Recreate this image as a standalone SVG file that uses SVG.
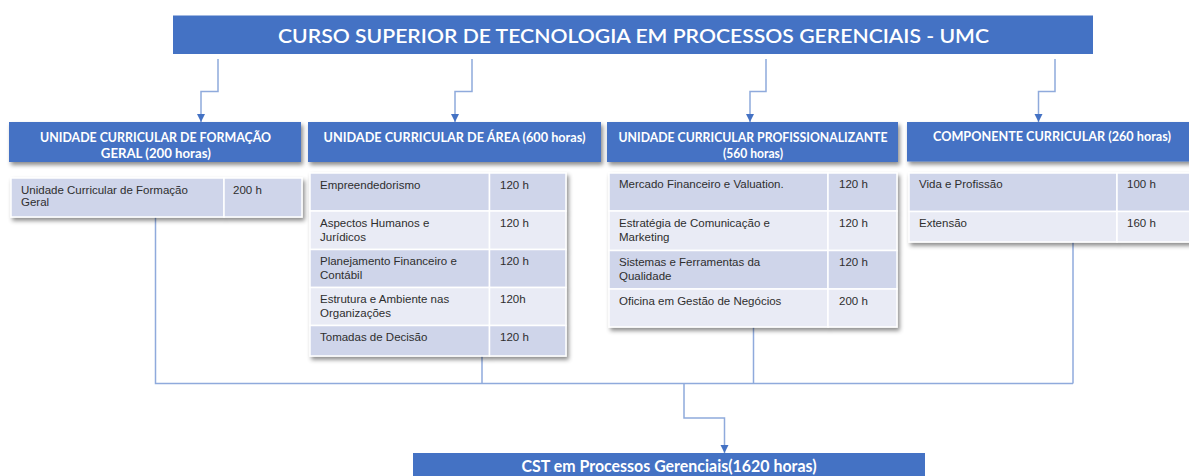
<svg xmlns="http://www.w3.org/2000/svg" width="1189" height="476" viewBox="0 0 1189 476">
  <style>
    .blue { fill: #4472c4; }
    .hdr { font-family: Lato, "Open Sans", "Liberation Sans", sans-serif; font-weight: 700; font-size: 13px; fill: #ffffff; text-anchor: middle; }
    .ttl { font-family: Lato, "Open Sans", "Liberation Sans", sans-serif; font-weight: 600; font-size: 20px; fill: #ffffff; text-anchor: middle; }
    .dark { fill: #cfd5ea; stroke: #ffffff; stroke-width: 1.5; }
    .light { fill: #e9ebf5; stroke: #ffffff; stroke-width: 1.5; }
    .cell { font-family: "Liberation Sans", Arial, sans-serif; font-size: 11.5px; fill: #2e2e2e; }
    .con { fill: none; stroke: #8faadc; stroke-width: 1.5; }
  </style>
  <defs>
    <filter id="sh" x="-5%" y="-10%" width="115%" height="140%">
      <feDropShadow dx="2" dy="3" stdDeviation="2" flood-color="#000000" flood-opacity="0.45"/>
    </filter>
    <marker id="arr" markerUnits="userSpaceOnUse" markerWidth="9" markerHeight="9" refX="8" refY="4" orient="auto">
      <path d="M0,0 L8,4 L0,8 z" fill="#4472c4"/>
    </marker>
  </defs>
  <rect width="1189" height="476" fill="#ffffff"/>

  <g id="connectors">
    <path class="con" d="M218,59 V91.5 H201 V122" marker-end="url(#arr)"/>
    <path class="con" d="M472,59 V91.5 H455 V122" marker-end="url(#arr)"/>
    <path class="con" d="M766,59 V91.5 H750 V122" marker-end="url(#arr)"/>
    <path class="con" d="M1055,59 V91.5 H1038.5 V122" marker-end="url(#arr)"/>
    <path class="con" d="M155.5,217 V383.5 H1073"/>
    <path class="con" d="M482,356 V383.5"/>
    <path class="con" d="M753.5,327 V383.5"/>
    <path class="con" d="M1073,242 V383.5"/>
    <path class="con" d="M684,383.5 V418 H724.5 V453" marker-end="url(#arr)"/>
  </g>

  <g id="title">
    <rect class="blue" x="173" y="15.5" width="920" height="38.5"/>
    <text class="ttl" x="633.5" y="42.5" textLength="711" lengthAdjust="spacingAndGlyphs">CURSO SUPERIOR DE TECNOLOGIA EM PROCESSOS GERENCIAIS - UMC</text>
  </g>

  <g id="header-formacao-geral">
    <rect class="blue" x="9" y="122" width="292" height="40" filter="url(#sh)"/>
    <text class="hdr" x="155.5" y="141.5" textLength="231" lengthAdjust="spacingAndGlyphs">UNIDADE CURRICULAR DE FORMAÇÃO</text>
    <text class="hdr" x="155.8" y="158" textLength="110" lengthAdjust="spacingAndGlyphs">GERAL (200 horas)</text>
  </g>
  <g id="header-area">
    <rect class="blue" x="308" y="122" width="293" height="40" filter="url(#sh)"/>
    <text class="hdr" x="454.5" y="141.5" textLength="262" lengthAdjust="spacingAndGlyphs">UNIDADE CURRICULAR DE ÁREA (600 horas)</text>
  </g>
  <g id="header-profissionalizante">
    <rect class="blue" x="607" y="122" width="291" height="40" filter="url(#sh)"/>
    <text class="hdr" x="753" y="141.5" textLength="269" lengthAdjust="spacingAndGlyphs">UNIDADE CURRICULAR PROFISSIONALIZANTE</text>
    <text class="hdr" x="753" y="158" textLength="60" lengthAdjust="spacingAndGlyphs">(560 horas)</text>
  </g>
  <g id="header-componente">
    <rect class="blue" x="907" y="122" width="295" height="39.5" filter="url(#sh)"/>
    <text class="hdr" x="1052" y="141" textLength="238" lengthAdjust="spacingAndGlyphs">COMPONENTE CURRICULAR (260 horas)</text>
  </g>

  <g id="table-formacao-geral">
    <g filter="url(#sh)">
      <rect class="dark" x="11" y="178" width="213" height="39"/>
      <rect class="dark" x="224" y="178" width="78" height="39"/>
    </g>
    <text class="cell" x="21" y="193.5">Unidade Curricular de Formação</text>
    <text class="cell" x="21" y="206">Geral</text>
    <text class="cell" x="233" y="193.5">200 h</text>
  </g>

  <g id="table-area">
    <g filter="url(#sh)">
      <rect class="dark" x="310" y="173" width="179.5" height="38"/>
      <rect class="dark" x="489.5" y="173" width="76.5" height="38"/>
      <rect class="light" x="310" y="211" width="179.5" height="38.5"/>
      <rect class="light" x="489.5" y="211" width="76.5" height="38.5"/>
      <rect class="dark" x="310" y="249.5" width="179.5" height="38"/>
      <rect class="dark" x="489.5" y="249.5" width="76.5" height="38"/>
      <rect class="light" x="310" y="287.5" width="179.5" height="38"/>
      <rect class="light" x="489.5" y="287.5" width="76.5" height="38"/>
      <rect class="dark" x="310" y="325.5" width="179.5" height="30.5"/>
      <rect class="dark" x="489.5" y="325.5" width="76.5" height="30.5"/>
    </g>
    <text class="cell" x="320" y="188.5">Empreendedorismo</text>
    <text class="cell" x="500" y="188.5">120 h</text>
    <text class="cell" x="320" y="226.5">Aspectos Humanos e</text>
    <text class="cell" x="320" y="240.8">Jurídicos</text>
    <text class="cell" x="500" y="226.5">120 h</text>
    <text class="cell" x="320" y="264.8">Planejamento Financeiro e</text>
    <text class="cell" x="320" y="279.1">Contábil</text>
    <text class="cell" x="500" y="264.8">120 h</text>
    <text class="cell" x="320" y="302.5">Estrutura e Ambiente nas</text>
    <text class="cell" x="320" y="316.8">Organizações</text>
    <text class="cell" x="500" y="302.5">120h</text>
    <text class="cell" x="320" y="340.5">Tomadas de Decisão</text>
    <text class="cell" x="500" y="340.5">120 h</text>
  </g>

  <g id="table-profissionalizante">
    <g filter="url(#sh)">
      <rect class="dark" x="609" y="173" width="219" height="38"/>
      <rect class="dark" x="828" y="173" width="69" height="38"/>
      <rect class="light" x="609" y="211" width="219" height="39.5"/>
      <rect class="light" x="828" y="211" width="69" height="39.5"/>
      <rect class="dark" x="609" y="250.5" width="219" height="38.5"/>
      <rect class="dark" x="828" y="250.5" width="69" height="38.5"/>
      <rect class="light" x="609" y="289" width="219" height="38"/>
      <rect class="light" x="828" y="289" width="69" height="38"/>
    </g>
    <text class="cell" x="619" y="188">Mercado Financeiro e Valuation.</text>
    <text class="cell" x="839" y="188">120 h</text>
    <text class="cell" x="619" y="227">Estratégia de Comunicação e</text>
    <text class="cell" x="619" y="241.3">Marketing</text>
    <text class="cell" x="839" y="227">120 h</text>
    <text class="cell" x="619" y="265.5">Sistemas e Ferramentas da</text>
    <text class="cell" x="619" y="279.8">Qualidade</text>
    <text class="cell" x="839" y="265.5">120 h</text>
    <text class="cell" x="619" y="304.5">Oficina em Gestão de Negócios</text>
    <text class="cell" x="839" y="304.5">200 h</text>
  </g>

  <g id="table-componente">
    <g filter="url(#sh)">
      <rect class="dark" x="909" y="173" width="208" height="38.5"/>
      <rect class="dark" x="1117" y="173" width="85" height="38.5"/>
      <rect class="light" x="909" y="211.5" width="208" height="30.5"/>
      <rect class="light" x="1117" y="211.5" width="85" height="30.5"/>
    </g>
    <text class="cell" x="919" y="188">Vida e Profissão</text>
    <text class="cell" x="1127" y="188">100 h</text>
    <text class="cell" x="919" y="227">Extensão</text>
    <text class="cell" x="1127" y="227">160 h</text>
  </g>

  <g id="total">
    <rect class="blue" x="413" y="453" width="512" height="30"/>
    <text class="hdr" x="669" y="472" style="font-size:17px" textLength="295" lengthAdjust="spacingAndGlyphs">CST em Processos Gerenciais(1620 horas)</text>
  </g>
</svg>
